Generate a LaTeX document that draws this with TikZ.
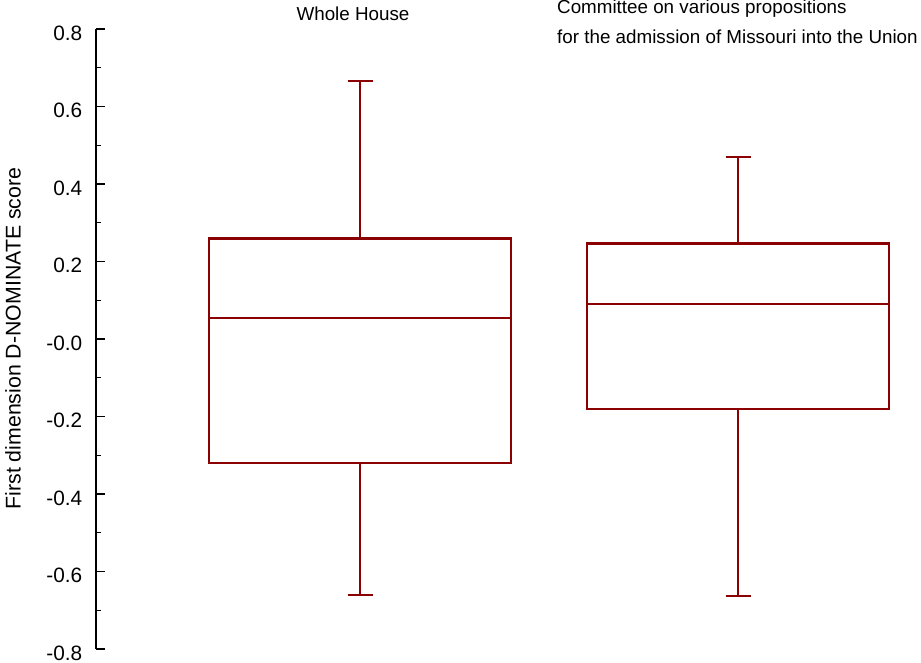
\documentclass[tikz,border=0pt]{standalone}
\usepackage{fontspec}
\setmainfont{Liberation Sans}
\definecolor{boxred}{RGB}{139,0,0}
\begin{document}
\begin{tikzpicture}[x=1pt,y=-1pt,
  boxline/.style={draw=boxred,line width=2.5pt},
  axisline/.style={draw=black,line width=2pt},
  ticklbl/.style={anchor=base east,inner sep=0pt,font=\fontsize{20.8}{24}\selectfont},
  titlelbl/.style={inner sep=0pt,font=\fontsize{18.8}{22}\selectfont}]
\useasboundingbox (0,0) rectangle (921,662);
% axis
\coordinate (atop) at (96,29);
\coordinate (abot) at (96,649);
\draw[axisline] (atop) -- (abot);
\foreach \v/\lbl [count=\i] in {0.8/0.8,0.6/0.6,0.4/0.4,0.2/0.2,0/-0.0,-0.2/-0.2,-0.4/-0.4,-0.6/-0.6,-0.8/-0.8}{
  \pgfmathsetmacro{\yy}{339-387.5*\v}
  \coordinate (t\i) at (96,\yy);
  \draw[line width=1.6pt] (t\i) -- ++(9,0);
  \node[ticklbl] (l\i) at (82.5,\yy+11) {\lbl};
}
\foreach \v [count=\i] in {0.7,0.5,0.3,0.1,-0.1,-0.3,-0.5,-0.7}{
  \pgfmathsetmacro{\yy}{339-387.5*\v}
  \coordinate (m\i) at (96,\yy);
  \draw[line width=1.2pt] (m\i) -- ++(4.5,0);
}
\node[rotate=90,anchor=base,inner sep=0pt,font=\fontsize{21.3}{24}\selectfont] (ylab) at (20.5,338.5) {First dimension D-NOMINATE score};
% titles
\node[titlelbl,anchor=base] (t1title) at (353,20.7) {Whole House};
\node[titlelbl,anchor=base west] (t2a) at (557,13) {Committee on various propositions};
\node[titlelbl,anchor=base west] (t2b) at (557,43) {for the admission of Missouri into the Union};
% box 1
\draw[boxline] (209,238.5) rectangle (511,463);
\draw[boxline] (209,318) -- (511,318);
\coordinate (w1t) at (360,81);
\coordinate (w1b) at (360,595);
\draw[boxline] (360,238.5) -- (w1t);
\draw[boxline] (360,463) -- (w1b);
\draw[boxline] (347.5,81) -- (372.5,81);
\draw[boxline] (347.5,595) -- (372.5,595);
% box 2
\draw[boxline] (587,243.5) rectangle (889,409);
\draw[boxline] (587,304) -- (889,304);
\coordinate (w2t) at (738,157);
\coordinate (w2b) at (738,596);
\draw[boxline] (738,243.5) -- (w2t);
\draw[boxline] (738,409) -- (w2b);
\draw[boxline] (725.5,157) -- (750.5,157);
\draw[boxline] (725.5,596) -- (750.5,596);
\end{tikzpicture}
\end{document}
